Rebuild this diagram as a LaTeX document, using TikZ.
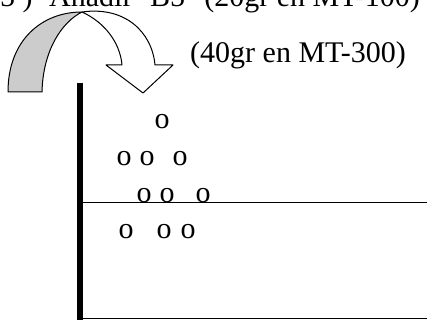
\documentclass[tikz,border=0pt]{standalone}
\usepackage{fontspec}
\setmainfont{Liberation Serif}
\begin{document}
\begin{tikzpicture}[x=1pt,y=-1pt,
  lbl/.style={inner sep=0pt,font=\fontsize{30}{36}\selectfont},
  bead/.style={lbl,anchor=base},
  band/.style={draw=black,line width=1pt,line join=round}]
\useasboundingbox (0,0) rectangle (427,320);
\clip (0,0) rectangle (427,320);
\node[lbl,anchor=base west] (titlea) at (0,7) {5 )};
\node[lbl,anchor=base west] (titleb) at (49,7) {Añadir};
\node[lbl,anchor=base west] (titlec) at (150,7) {B5};
\node[lbl,anchor=base east] (titled) at (420,7) {(20gr en MT-100)};
\node[lbl,anchor=base west] (note) at (190,63) {(40gr en MT-300)};
% curved arrow
\filldraw[band,fill=black!20] (8,92) .. controls (8,40) and (42,12) .. (82,12)
  .. controls (62,22) and (43,50) .. (42,92) -- cycle;
\filldraw[band,fill=white] (82,12) .. controls (125,6) and (152,32) .. (155,65)
  -- (173,65) -- (143,93) -- (106,65) -- (122,65)
  .. controls (120,42) and (104,22) .. (82,12) -- cycle;
% container
\draw[line width=6pt] (80,83) -- (80,322);
\draw[line width=1pt] (80,202) -- (427,202);
\draw[line width=1pt] (80,318) -- (427,318);
% beads
\node[bead] (o1) at (162,129) {o};
\node[bead] (o2) at (124,165) {o};
\node[bead] (o3) at (147,165) {o};
\node[bead] (o4) at (180,165) {o};
\node[bead] (o5) at (144,202) {o};
\node[bead] (o6) at (167,202) {o};
\node[bead] (o7) at (203,202) {o};
\node[bead] (o8) at (126,238) {o};
\node[bead] (o9) at (164,238) {o};
\node[bead] (o10) at (188,238) {o};
\end{tikzpicture}
\end{document}
